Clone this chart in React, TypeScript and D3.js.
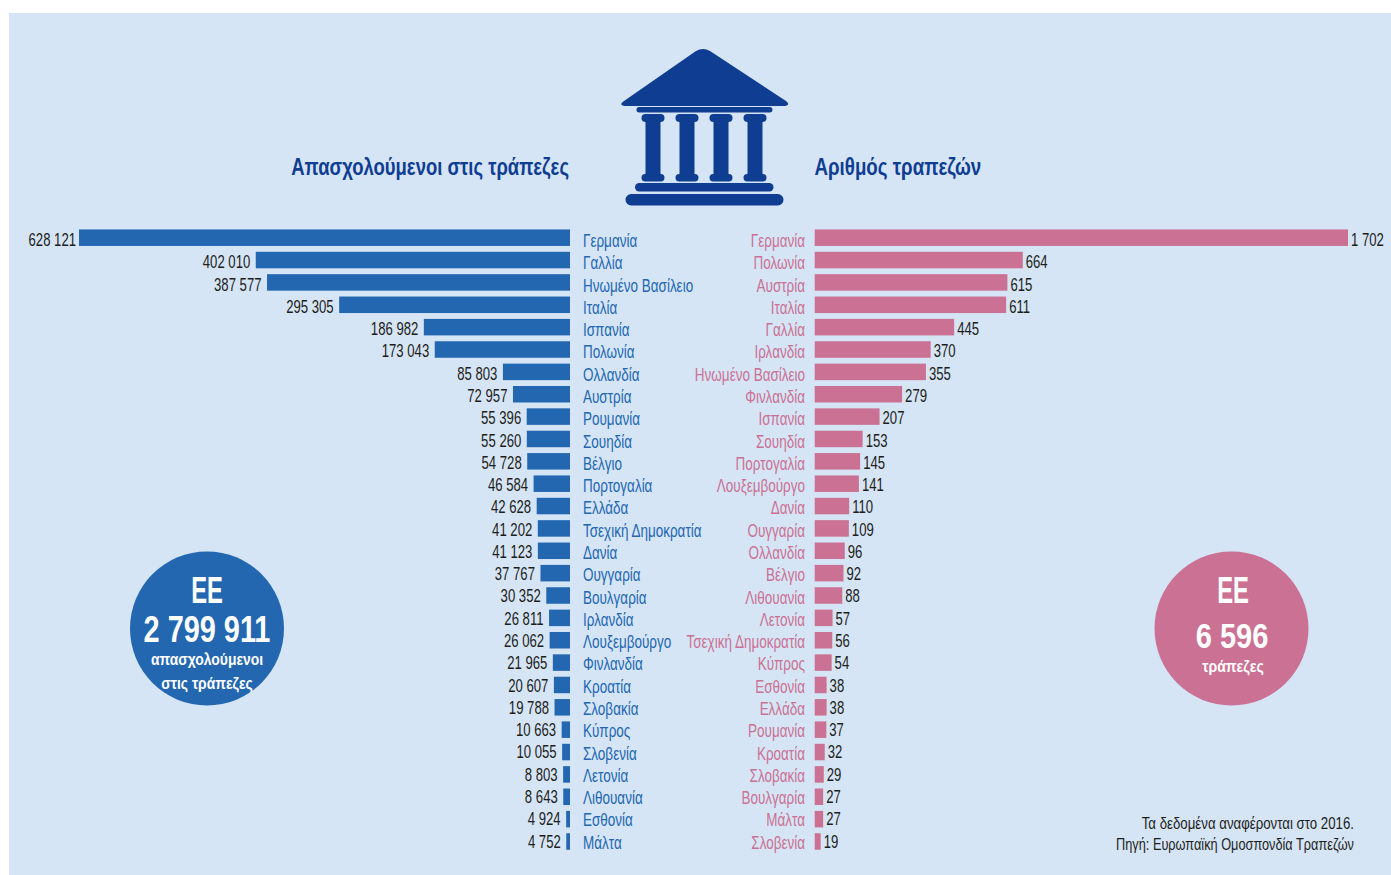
import React from "react";
import * as d3 from "d3";

const staffCountries = ["Γερμανία","Γαλλία","Ηνωμένο Βασίλειο","Ιταλία","Ισπανία","Πολωνία","Ολλανδία","Αυστρία","Ρουμανία","Σουηδία","Βέλγιο","Πορτογαλία","Ελλάδα","Τσεχική Δημοκρατία","Δανία","Ουγγαρία","Βουλγαρία","Ιρλανδία","Λουξεμβούργο","Φινλανδία","Κροατία","Σλοβακία","Κύπρος","Σλοβενία","Λετονία","Λιθουανία","Εσθονία","Μάλτα"];
const staffValues = [628121,402010,387577,295305,186982,173043,85803,72957,55396,55260,54728,46584,42628,41202,41123,37767,30352,26811,26062,21965,20607,19788,10663,10055,8803,8643,4924,4752];
const bankCountries = ["Γερμανία","Πολωνία","Αυστρία","Ιταλία","Γαλλία","Ιρλανδία","Ηνωμένο Βασίλειο","Φινλανδία","Ισπανία","Σουηδία","Πορτογαλία","Λουξεμβούργο","Δανία","Ουγγαρία","Ολλανδία","Βέλγιο","Λιθουανία","Λετονία","Τσεχική Δημοκρατία","Κύπρος","Εσθονία","Ελλάδα","Ρουμανία","Κροατία","Σλοβακία","Βουλγαρία","Μάλτα","Σλοβενία"];
const bankValues = [1702,664,615,611,445,370,355,279,207,153,145,141,110,109,96,92,88,57,56,54,38,38,37,32,29,27,27,19];

const FONT = "'Liberation Sans',sans-serif";
const BLUE = "#2367B1";
const PINK = "#CB7193";
const NAVY = "#0F3D92";
const INK = "#1d1d1b";
const fmt = (v: number) => String(v).replace(/\B(?=(\d{3})+$)/g, " ");

const rowIdx = staffCountries.map((_, i) => i);
const y = d3.scalePoint<number>().domain(rowIdx).range([237.7, 841.5]);
const yLabel = d3.scalePoint<number>().domain(rowIdx).range([247, 848.7]);
const yValue = d3.scalePoint<number>().domain(rowIdx).range([246, 847.5]);
const xStaff = d3.scaleLinear().domain([0, 628121]).range([570, 79]);
const xBank = d3.scaleLinear().domain([0, 1702]).range([814.7, 1348]);
const BAR_H = 16.5;

type TProps = { x: number; y: number; sx: number; size: number; fill: string; anchor?: string; bold?: boolean; children: React.ReactNode };
function T({ x, y, sx, size, fill, anchor = "start", bold = false, children }: TProps) {
  return (
    <text transform={`translate(${x},${y}) scale(${sx},1)`} textAnchor={anchor} fontSize={size} fontWeight={bold ? 700 : 400} fill={fill}>
      {children}
    </text>
  );
}

function Temple() {
  const columns = [653, 687, 721, 755];
  return (
    <g fill={NAVY}>
      <path d="M696 51 Q703 47 710 51 L786 101 Q791 105 785 106 L625 106 Q618 105 624 101 Z" />
      <rect x={636.5} y={107} width={136} height={5.5} rx={2.7} />
      {columns.map((c) => (
        <g key={c}>
          <rect x={c - 11.5} y={114} width={23} height={8} rx={4} />
          <rect x={c - 7.5} y={118} width={15} height={60} />
          <rect x={c - 11.5} y={174} width={23} height={7.5} rx={3.7} />
        </g>
      ))}
      <rect x={635} y={183} width={138.5} height={8.5} rx={4.2} />
      <rect x={625.5} y={194} width={158} height={11.5} rx={5.7} />
    </g>
  );
}

export default function App() {
  return (
    <svg width={1391} height={875} style={{ position: "absolute", left: 0, top: 0 }} fontFamily={FONT}>
      <rect x={0} y={0} width={1391} height={875} fill="#fff" />
      <rect x={9} y={13} width={1382} height={862} fill="#D5E5F6" />
      <Temple />
      <T x={569} y={175} sx={0.77} size={24} bold anchor="end" fill={NAVY}>Απασχολούμενοι στις τράπεζες</T>
      <T x={814.5} y={175} sx={0.78} size={24} bold fill={NAVY}>Αριθμός τραπεζών</T>

      {staffValues.map((v, i) => (
        <g key={i}>
          <rect x={xStaff(v)} y={y(i)! - BAR_H / 2} width={570 - xStaff(v)} height={BAR_H} fill={BLUE} />
          <T x={xStaff(v) - (i === 0 ? 3 : 5.5)} y={yValue(i)!} sx={0.73} size={18} anchor="end" fill={INK}>{fmt(v)}</T>
          <T x={583} y={yLabel(i)!} sx={0.75} size={18} fill={BLUE}>{staffCountries[i]}</T>
        </g>
      ))}
      {bankValues.map((v, i) => (
        <g key={i}>
          <rect x={814.7} y={y(i)! - BAR_H / 2} width={xBank(v) - 814.7} height={BAR_H} fill={PINK} />
          <T x={xBank(v) + 3} y={yValue(i)!} sx={0.73} size={18} fill={INK}>{fmt(v)}</T>
          <T x={805} y={yLabel(i)!} sx={0.75} size={18} anchor="end" fill={PINK}>{bankCountries[i]}</T>
        </g>
      ))}

      <circle cx={207} cy={628.5} r={77} fill={BLUE} />
      <T x={207} y={603} sx={0.66} size={36} bold anchor="middle" fill="#fff">ΕΕ</T>
      <T x={207} y={642} sx={0.78} size={37} bold anchor="middle" fill="#fff">2 799 911</T>
      <T x={207} y={665} sx={0.87} size={16} bold anchor="middle" fill="#fff">απασχολούμενοι</T>
      <T x={207} y={689} sx={0.87} size={16} bold anchor="middle" fill="#fff">στις τράπεζες</T>

      <circle cx={1231.5} cy={628.5} r={77} fill={PINK} />
      <T x={1233} y={603} sx={0.66} size={36} bold anchor="middle" fill="#fff">ΕΕ</T>
      <T x={1232} y={648} sx={0.83} size={35} bold anchor="middle" fill="#fff">6 596</T>
      <T x={1233} y={672} sx={0.88} size={16} bold anchor="middle" fill="#fff">τράπεζες</T>

      <T x={1354} y={829} sx={0.78} size={17} anchor="end" fill={INK}>Τα δεδομένα αναφέρονται στο 2016.</T>
      <T x={1354} y={850} sx={0.75} size={17} anchor="end" fill={INK}>Πηγή: Ευρωπαϊκή Ομοσπονδία Τραπεζών</T>
    </svg>
  );
}
